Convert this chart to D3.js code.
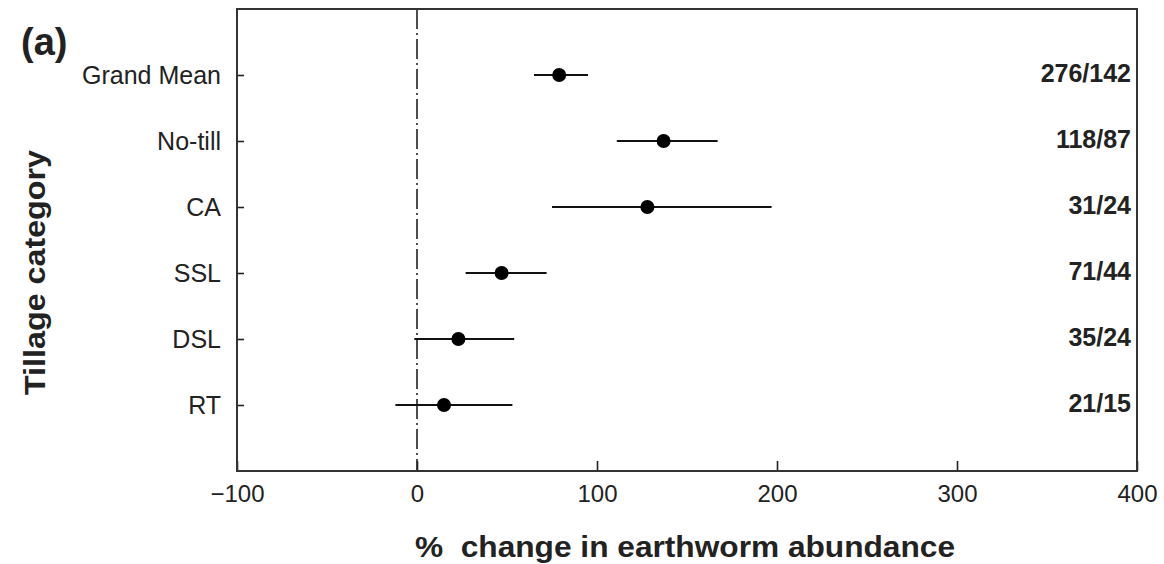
<!DOCTYPE html>
<html>
<head>
<meta charset="utf-8">
<script src="https://cdn.jsdelivr.net/npm/d3@7"></script>
<style>
    html, body { margin: 0; padding: 0; background: #fff; }
    svg text { font-family: Arial, "Liberation Sans", sans-serif; fill: #222; }
</style>
</head>
<body>
<div id="chart"></div>
<script>
// data
var categories = ['Grand Mean', 'No-till', 'CA', 'SSL', 'DSL', 'RT'];
var means = [79, 137, 128, 47, 23, 15];
var ciLow = [65, 111, 75, 27, -1.5, -12];
var ciHigh = [95, 167, 197, 72, 54, 53];
var counts = ['276/142', '118/87', '31/24', '71/44', '35/24', '21/15'];
var xTicks = [-100, 0, 100, 200, 300, 400];

(function () {
    var W = 1164, H = 564;
    var left = 237, right = 1137, top = 9, bottom = 471;

    var svg = d3.select('#chart')
        .append('svg')
        .attr('width', W)
        .attr('height', H);

    var x = d3.scaleLinear().domain([-100, 400]).range([left, right]);
    var y = d3.scaleLinear().domain([0, categories.length + 1]).range([top, bottom]);

    var rows = categories.map(function (c, i) {
        return { name: c, idx: i + 1, mean: means[i], lo: ciLow[i], hi: ciHigh[i], n: counts[i] };
    });

    // zero reference line (dash-dot)
    svg.append('line')
        .attr('x1', x(0)).attr('x2', x(0))
        .attr('y1', top).attr('y2', bottom)
        .attr('stroke', '#222')
        .attr('stroke-width', 1.6)
        .attr('stroke-dasharray', '20,4,2,4');

    // bottom axis, ticks pointing inward
    var xAxis = svg.append('g')
        .attr('transform', 'translate(0,' + bottom + ')')
        .call(d3.axisBottom(x).tickValues(xTicks).tickSize(-10).tickPadding(14)
            .tickFormat(function (d) { return d < 0 ? '\u2212' + Math.abs(d) : d; }));
    xAxis.select('.domain').remove();
    xAxis.selectAll('line').attr('stroke', '#222').attr('stroke-width', 1.6);
    xAxis.selectAll('text')
        .style('font-size', '24px')
        .attr('fill', '#222');

    // left axis, ticks inward
    var yAxis = svg.append('g')
        .attr('transform', 'translate(' + left + ',0)')
        .call(d3.axisLeft(y).tickValues(rows.map(function (d) { return d.idx; }))
            .tickSize(-7).tickPadding(16)
            .tickFormat(function (d) { return categories[d - 1]; }));
    yAxis.select('.domain').remove();
    yAxis.selectAll('line').attr('stroke', '#222').attr('stroke-width', 1.6);
    yAxis.selectAll('text')
        .style('font-size', '25px')
        .attr('fill', '#222');

    // frame
    svg.append('rect')
        .attr('x', left).attr('y', top)
        .attr('width', right - left).attr('height', bottom - top)
        .attr('fill', 'none')
        .attr('stroke', '#333')
        .attr('stroke-width', 2);

    // error bars
    svg.selectAll('.ci')
        .data(rows)
        .enter()
        .append('line')
        .attr('class', 'ci')
        .attr('x1', function (d) { return x(d.lo); })
        .attr('x2', function (d) { return x(d.hi); })
        .attr('y1', function (d) { return y(d.idx); })
        .attr('y2', function (d) { return y(d.idx); })
        .attr('stroke', '#111')
        .attr('stroke-width', 2);

    // means
    svg.selectAll('.dot')
        .data(rows)
        .enter()
        .append('circle')
        .attr('class', 'dot')
        .attr('cx', function (d) { return x(d.mean); })
        .attr('cy', function (d) { return y(d.idx); })
        .attr('r', 7)
        .attr('fill', '#000');

    // sample sizes on the right
    svg.selectAll('.count')
        .data(rows)
        .enter()
        .append('text')
        .attr('class', 'count')
        .attr('x', 1131)
        .attr('y', function (d) { return y(d.idx) - 2; })
        .attr('dy', '0.35em')
        .attr('text-anchor', 'end')
        .style('font-size', '25px')
        .style('font-weight', 'bold')
        .text(function (d) { return d.n; });

    // titles
    svg.append('text')
        .attr('x', 415)
        .attr('y', 557)
        .attr('textLength', 540)
        .attr('lengthAdjust', 'spacingAndGlyphs')
        .style('font-size', '29px')
        .style('font-weight', 'bold')
        .style('white-space', 'pre')
        .text('%  change in earthworm abundance');

    svg.append('text')
        .attr('transform', 'translate(45,' + 395 + ') rotate(-90)')
        .attr('textLength', 245)
        .attr('lengthAdjust', 'spacingAndGlyphs')
        .style('font-size', '30px')
        .style('font-weight', 'bold')
        .text('Tillage category');

    svg.append('text')
        .attr('x', 21)
        .attr('y', 55)
        .style('font-size', '38px')
        .style('font-weight', 'bold')
        .text('(a)');
})();
</script>
</body>
</html>
